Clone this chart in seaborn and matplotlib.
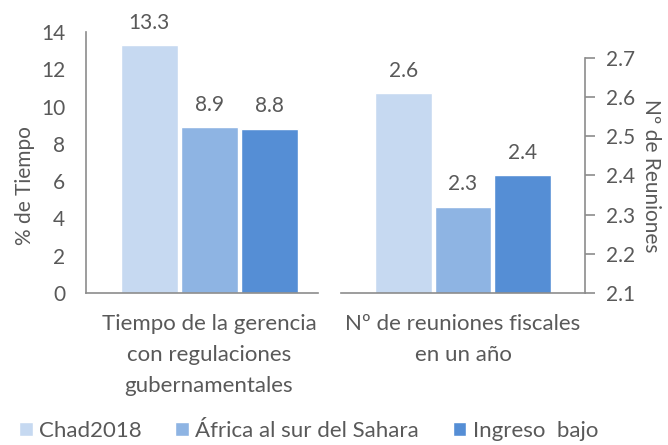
import matplotlib
matplotlib.use('Agg')
import matplotlib.pyplot as plt
import seaborn as sns
import pandas as pd
from matplotlib.patches import Patch

# datos
grupos = ['Chad2018', 'África al sur del Sahara', 'Ingreso  bajo']
colores = ['#C6D9F1', '#8EB4E3', '#558ED5']
tiempo = [13.3, 8.9, 8.8]
reuniones = [2.61, 2.32, 2.40]
cat_tiempo = 'Tiempo de la gerencia\ncon regulaciones\ngubernamentales'
cat_reuniones = 'Nº de reuniones fiscales\nen un año'

sns.set_style('white')
plt.rcParams['font.family'] = ['Lato', 'DejaVu Sans']
gris = '#595959'
linea = '#8C8C8C'
fs = 15

df1 = pd.DataFrame({'cat': [cat_tiempo] * 3, 'grupo': grupos, 'valor': tiempo})
df2 = pd.DataFrame({'cat': [cat_reuniones] * 3, 'grupo': grupos, 'valor': reuniones})

fig = plt.figure(figsize=(6.68, 4.45), dpi=100)
ax1 = fig.add_axes([0.1287, 0.3416, 0.3473, 0.5865])
ax2 = fig.add_axes([0.5105, 0.3416, 0.3652, 0.5281])

sns.barplot(data=df1, x='cat', y='valor', hue='grupo', palette=colores, ax=ax1,
            gap=0.05, saturation=1, legend=False)
sns.barplot(data=df2, x='cat', y='valor', hue='grupo', palette=colores, ax=ax2,
            gap=0.05, saturation=1, legend=False)

# eje izquierdo
ax1.set_ylim(0, 14)
ax1.set_yticks(range(0, 15, 2))
ax1.set_xlim(-0.547, 0.484)
ax1.set_ylabel('% de Tiempo', color=gris, fontsize=fs)
ax1.yaxis.set_label_coords(-0.22, 0.41)
ax1.set_xlabel('')
for s in ['top', 'right']:
    ax1.spines[s].set_visible(False)

# eje derecho
ax2.set_ylim(2.1, 2.7)
ax2.set_yticks([2.1, 2.2, 2.3, 2.4, 2.5, 2.6, 2.7])
ax2.set_xlim(-0.548, 0.548)
ax2.yaxis.tick_right()
ax2.yaxis.set_label_position('right')
ax2.set_ylabel('Nº de Reuniones', color=gris, fontsize=fs, rotation=270, labelpad=19)
ax2.set_xlabel('')
for s in ['top', 'left']:
    ax2.spines[s].set_visible(False)

for ax in [ax1, ax2]:
    for s in ax.spines.values():
        s.set_color(linea)
        s.set_linewidth(1.2)
    ax.tick_params(axis='y', colors=linea, labelcolor=gris, labelsize=fs, length=7, width=1.2, pad=8)
    ax.tick_params(axis='x', length=0, labelcolor=gris, labelsize=16, pad=15)
    ax.set_xticks(ax.get_xticks(), ax.get_xticklabels(), linespacing=1.7)
    ax.tick_params(axis='x', which='minor', length=6, width=1.2, colors=linea)
    for c in ax.containers:
        ax.bar_label(c, fmt='%.1f', padding=9, color=gris, fontsize=fs)

ax1.set_xticks([-0.547], minor=True)
ax2.set_xticks([-0.548, 0.548], minor=True)

handles = [Patch(facecolor=c, label=g) for c, g in zip(colores, grupos)]
fig.legend(handles=handles, loc='lower center', ncol=3, frameon=False,
           bbox_to_anchor=(0.462, -0.035), fontsize=16, labelcolor=gris,
           handlelength=0.6, handleheight=0.6, handletextpad=0.3, columnspacing=1.5)

fig.savefig('out.png', dpi=100)
